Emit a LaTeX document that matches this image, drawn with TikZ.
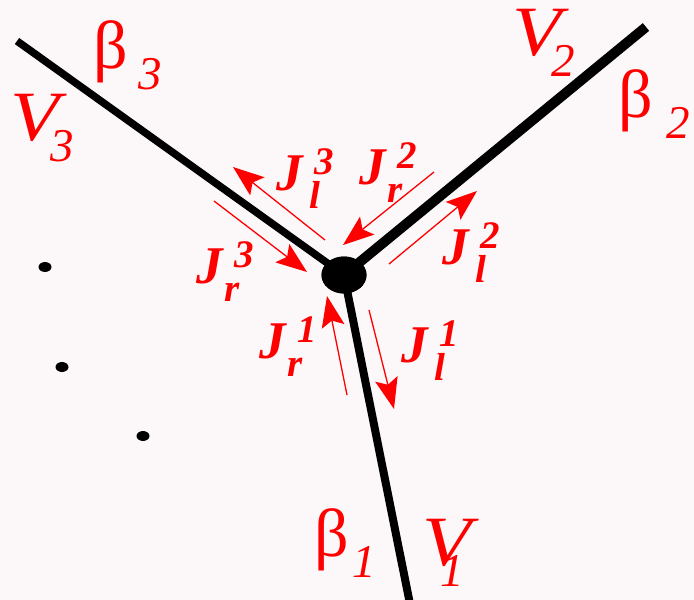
\documentclass[tikz,border=0pt]{standalone}
\usepackage{fontspec}
\usepackage{graphicx}
\setmainfont{Liberation Serif}
\usetikzlibrary{arrows.meta,shapes.geometric}

\definecolor{paper}{RGB}{252,248,250}
\newcommand{\bigsz}{\fontsize{68}{70}\selectfont}
\newcommand{\bigsub}{\fontsize{47}{49}\selectfont}
\newcommand{\jsz}{\fontsize{53}{55}\selectfont}
\newcommand{\jsub}{\fontsize{39}{41}\selectfont}
\newcommand{\bigV}{\scalebox{1.18}[1.04]{\textit{V}}}
% base, subscript, kern before subscript
\newcommand{\edgelab}[3]{#1\kern#3\raisebox{-.32em}{\bigsub\itshape #2}}
% J with superscript (edge), subscript (l/r), kern before subscript
\newcommand{\flux}[3]{\textbf{\textit{J}}\rlap{\raisebox{.3em}{\kern.2em\jsub\bfseries\itshape #1}}\kern#3\raisebox{-.34em}{\jsub\bfseries\itshape #2}}

\begin{document}
\begin{tikzpicture}[x=1pt,y=-1pt,
  wire/.style={line width=#1},
  flow/.style={red, line width=1.3pt, -{Stealth[length=31pt,width=23pt,inset=6pt]}},
  lbl/.style={red, anchor=base west, inner sep=0pt, font=\bigsz},
  jlbl/.style={red, anchor=base west, inner sep=0pt, font=\jsz},
  dot/.style={ellipse, fill=black, minimum width=13pt, minimum height=10pt, inner sep=0pt}]
  \useasboundingbox (0,0) rectangle (694,600);
  \fill[paper] (0,0) rectangle (694,600);

  % vertex and the three edges
  \node[ellipse, fill=black, minimum width=45pt, minimum height=37pt, inner sep=0pt] (c) at (344,275) {};
  \coordinate (e1) at (410,604);
  \coordinate (e2) at (646,27);
  \coordinate (e3) at (17,41);
  \draw[wire=8pt] (c.center) -- (e1);
  \draw[wire=10pt] (c.center) -- (e2);
  \draw[wire=7.5pt] (c.center) -- (e3);
  \node[ellipse, fill=black, minimum width=45pt, minimum height=37pt, inner sep=0pt] at (c) {};

  % more edges
  \node[dot] (d1) at (45,267) {};
  \node[dot] (d2) at (62,367) {};
  \node[dot] (d3) at (143,436) {};

  % edge labels
  \node[lbl] (b3) at (93,68) {\edgelab{β}{3}{.16em}};
  \node[lbl] (v3) at (10,140) {\edgelab{\bigV}{3}{-.24em}};
  \node[lbl] (v2) at (512,55) {\edgelab{\bigV}{2}{-.26em}};
  \node[lbl] (b2) at (618,117) {\edgelab{β}{2}{.2em}};
  \node[lbl] (b1) at (314,556) {\edgelab{β}{1}{.06em}};
  \node[lbl] (v1) at (422,565) {\edgelab{\bigV}{1}{-.56em}};

  % currents
  \coordinate (a3l) at (325,240);  \coordinate (h3l) at (233,167);
  \coordinate (a3r) at (214,201);  \coordinate (h3r) at (307,272);
  \coordinate (a2r) at (434,172);  \coordinate (h2r) at (343,245);
  \coordinate (a2l) at (389,264);  \coordinate (h2l) at (477,191);
  \coordinate (a1r) at (347,395);  \coordinate (h1r) at (327,296);
  \coordinate (a1l) at (369,310);  \coordinate (h1l) at (394,409);
  \draw[flow] (a3l) -- (h3l);
  \draw[flow] (a3r) -- (h3r);
  \draw[flow] (a2r) -- (h2r);
  \draw[flow] (a2l) -- (h2l);
  \draw[flow] (a1r) -- (h1r);
  \draw[flow] (a1l) -- (h1l);

  \node[jlbl] (j3l) at (276,190) {\flux{3}{l}{.1em}};
  \node[jlbl] (j2r) at (359,184) {\flux{2}{r}{0em}};
  \node[jlbl] (j3r) at (196,283) {\flux{3}{r}{0em}};
  \node[jlbl] (j2l) at (442,264) {\flux{2}{l}{.1em}};
  \node[jlbl] (j1r) at (259,358) {\flux{1}{r}{0em}};
  \node[jlbl] (j1l) at (401,362) {\flux{1}{l}{.1em}};
\end{tikzpicture}
\end{document}
